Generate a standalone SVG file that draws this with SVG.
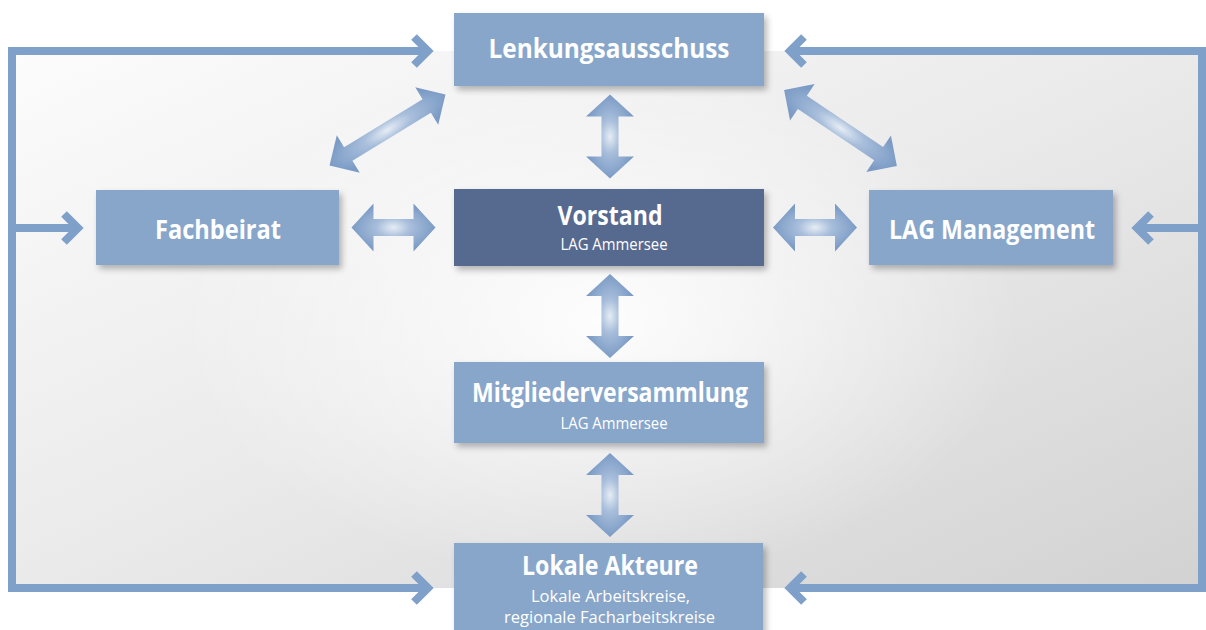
<svg xmlns="http://www.w3.org/2000/svg" xmlns:xlink="http://www.w3.org/1999/xlink" width="1206" height="630" viewBox="0 0 1206 630">
  <defs>
    <linearGradient id="bg" x1="0" y1="0" x2="1" y2="1">
      <stop offset="0" stop-color="#fcfcfc"/>
      <stop offset="0.5" stop-color="#eaeaea"/>
      <stop offset="1" stop-color="#d2d2d2"/>
    </linearGradient>
    <radialGradient id="glow" cx="0.5" cy="0.5" r="0.5">
      <stop offset="0" stop-color="#ffffff" stop-opacity="0.9"/>
      <stop offset="0.6" stop-color="#ffffff" stop-opacity="0.35"/>
      <stop offset="1" stop-color="#ffffff" stop-opacity="0"/>
    </radialGradient>
    <radialGradient id="arr" cx="0.5" cy="0.5" r="0.5">
      <stop offset="0" stop-color="#e6edf5"/>
      <stop offset="0.4" stop-color="#a8bedb"/>
      <stop offset="1" stop-color="#7b9bc5"/>
    </radialGradient>
    <filter id="sh" x="-10%" y="-20%" width="125%" height="150%">
      <feDropShadow dx="3" dy="4" stdDeviation="3" flood-color="#000" flood-opacity="0.28"/>
    </filter>
    <path id="dblH" d="M-42,0 L-20,-24 L-20,-8.5 L20,-8.5 L20,-24 L42,0 L20,24 L20,8.5 L-20,8.5 L-20,24 Z"/>
    <path id="dblD" d="M-68,0 L-46,-22 L-46,-8 L46,-8 L46,-22 L68,0 L46,22 L46,8 L-46,8 L-46,22 Z"/>
    <style>
      .box { fill: #87a6ca; filter: url(#sh); }
      .dark { fill: #56698f; filter: url(#sh); }
      .t { font-family: "Open Sans", "Liberation Sans", sans-serif; font-weight: 700; fill: #ffffff; text-anchor: middle; }
      .s { font-family: "Open Sans", "Liberation Sans", sans-serif; font-weight: 400; fill: #ffffff; text-anchor: middle; }
      .frame { fill: none; stroke: #7ea0c9; stroke-width: 8; stroke-linejoin: miter; }
      .chev { fill: none; stroke: #7ea0c9; stroke-width: 8; stroke-linejoin: miter; stroke-linecap: butt; }
      .dbl { fill: url(#arr); }
    </style>
  </defs>

  <!-- background -->
  <rect x="12" y="51" width="1190" height="537" fill="url(#bg)"/>
  <ellipse cx="600" cy="320" rx="420" ry="260" fill="url(#glow)"/>

  <g id="connectors">
    <!-- frame -->
    <polyline class="frame" points="429,51 12,51 12,588 429,588"/>
    <line class="frame" x1="12" y1="228" x2="77" y2="228"/>
    <polyline class="frame" points="791,51 1202,51 1202,588 791,588"/>
    <line class="frame" x1="1202" y1="228" x2="1138" y2="228"/>
    <polyline class="chev" points="414,37 428,51 414,65"/>
    <polyline class="chev" points="414,574 428,588 414,602"/>
    <polyline class="chev" points="64,214 78,228 64,242"/>
    <polyline class="chev" points="804,37 790,51 804,65"/>
    <polyline class="chev" points="804,574 790,588 804,602"/>
    <polyline class="chev" points="1151,214 1137,228 1151,242"/>
    <!-- double arrows -->
    <use xlink:href="#dblH" class="dbl" transform="translate(610,136.5) rotate(90)"/>
    <use xlink:href="#dblH" class="dbl" transform="translate(610,316) rotate(90)"/>
    <use xlink:href="#dblH" class="dbl" transform="translate(610,495) rotate(90)"/>
    <use xlink:href="#dblH" class="dbl" transform="translate(393.5,227.5)"/>
    <use xlink:href="#dblH" class="dbl" transform="translate(815,227.5)"/>
    <use xlink:href="#dblD" class="dbl" transform="translate(387.5,130) rotate(-31.5)"/>
    <use xlink:href="#dblD" class="dbl" transform="translate(840.5,128) rotate(34)"/>
  </g>

  <g id="lenkungsausschuss">
    <rect class="box" x="454" y="13" width="310" height="73"/>
    <text class="t" x="609" y="58" font-size="26" textLength="241" lengthAdjust="spacingAndGlyphs">Lenkungsausschuss</text>
  </g>

  <g id="fachbeirat">
    <rect class="box" x="96" y="190" width="243" height="75"/>
    <text class="t" x="218" y="239" font-size="27" textLength="126" lengthAdjust="spacingAndGlyphs">Fachbeirat</text>
  </g>

  <g id="lag-management">
    <rect class="box" x="869" y="190" width="244" height="75"/>
    <text class="t" x="992" y="239" font-size="26" textLength="206" lengthAdjust="spacingAndGlyphs">LAG Management</text>
  </g>

  <g id="vorstand">
    <rect class="dark" x="454" y="189" width="310" height="77"/>
    <text class="t" x="610" y="225" font-size="26" textLength="105" lengthAdjust="spacingAndGlyphs">Vorstand</text>
    <text class="s" x="614" y="250" font-size="17" textLength="107" lengthAdjust="spacingAndGlyphs">LAG Ammersee</text>
  </g>

  <g id="mitgliederversammlung">
    <rect class="box" x="454" y="362" width="310" height="81"/>
    <text class="t" x="610" y="402" font-size="26" textLength="276" lengthAdjust="spacingAndGlyphs">Mitgliederversammlung</text>
    <text class="s" x="614" y="429" font-size="17" textLength="107" lengthAdjust="spacingAndGlyphs">LAG Ammersee</text>
  </g>

  <g id="lokale-akteure">
    <rect class="box" x="454" y="543" width="309" height="90"/>
    <text class="t" x="610" y="575" font-size="26" textLength="176" lengthAdjust="spacingAndGlyphs">Lokale Akteure</text>
    <text class="s" x="610.5" y="602" font-size="17" textLength="159" lengthAdjust="spacingAndGlyphs">Lokale Arbeitskreise,</text>
    <text class="s" x="609.5" y="623" font-size="17" textLength="211" lengthAdjust="spacingAndGlyphs">regionale Facharbeitskreise</text>
  </g>
</svg>
